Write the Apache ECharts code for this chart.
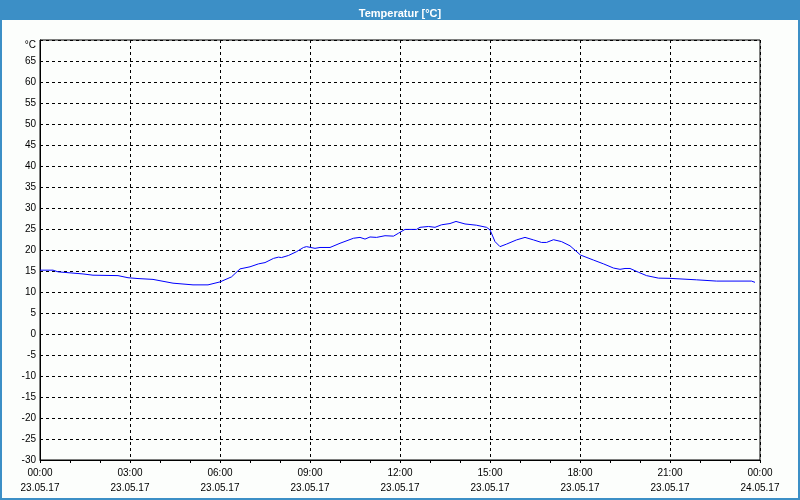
<!DOCTYPE html>
<html>
<head>
<meta charset="utf-8">
<script src="https://cdn.jsdelivr.net/npm/echarts@6/dist/echarts.min.js"></script>
<style>
html,body{margin:0;padding:0;background:#fcfefc;}
#main{width:800px;height:500px;}
</style>
</head>
<body>
<div id="main"></div>
<script>
// Measurement times (HH:MM on 23.05.17)
var times = ['00:00','00:26','00:36','01:26','01:46','02:36','02:56','03:16','03:46','04:26',
  '05:06','05:36','06:00','06:23','06:40','07:00','07:17','07:30','07:47','07:57',
  '08:03','08:17','08:33','08:47','08:53','09:10','09:20','09:40','10:00','10:27',
  '10:40','10:50','11:00','11:13','11:30','11:47','11:57','12:10','12:33','12:40',
  '12:57','13:10','13:23','13:40','13:52','14:10','14:33','14:53','15:00','15:10',
  '15:20','15:33','15:53','16:10','16:27','16:43','16:53','17:07','17:23','17:40',
  '18:01','18:27','18:47','19:07','19:20','19:30','19:40','19:57','20:13','20:37',
  '21:00','21:53','22:33','23:43','23:50'];
// Temperature values in °C
var temps = [15.2,15.2,14.8,14.3,14.0,13.9,13.4,13.2,13.0,12.1,
  11.7,11.7,12.4,13.6,15.5,16.0,16.7,17.0,18.0,18.3,
  18.2,18.7,19.6,20.6,20.8,20.4,20.6,20.6,21.6,22.8,
  23.0,22.6,23.1,23.0,23.4,23.3,24.0,24.9,24.9,25.4,
  25.6,25.4,26.0,26.3,26.8,26.2,25.9,25.4,24.8,22.0,
  20.8,21.4,22.4,23.0,22.4,21.8,21.8,22.45,22.0,21.0,
  18.8,17.6,16.7,15.7,15.4,15.6,15.6,14.7,13.9,13.3,
  13.25,12.9,12.6,12.6,12.3];
// X tick labels
var xTimeLabels = ['00:00','03:00','06:00','09:00','12:00','15:00','18:00','21:00','00:00'];
var xDateLabels = ['23.05.17','23.05.17','23.05.17','23.05.17','23.05.17','23.05.17','23.05.17','23.05.17','24.05.17'];
var yUnitLabel = '°C';

function toHours(s){var p=s.split(':');return (+p[0])+(+p[1])/60;}
var seriesData = times.map(function(t,i){return [toHours(t), temps[i]];});

var FONT = 'Liberation Sans';
var BLUE = '#3c8fc6';
var chart = echarts.init(document.getElementById('main'), null, {renderer:'canvas'});
chart.setOption({
  animation:false,
  backgroundColor:'#fcfefc',
  title:{
    text:'Temperatur [°C]', left:'center', top:3,
    textStyle:{color:'#ffffff', fontSize:11, fontWeight:'bold', fontFamily:FONT}
  },
  graphic:[
    {type:'rect', shape:{x:0,y:0,width:800,height:20}, style:{fill:BLUE}, z:-10, silent:true},
    {type:'rect', shape:{x:1,y:1,width:798,height:498}, style:{fill:null, stroke:BLUE, lineWidth:2}, z:-10, silent:true}
  ],
  grid:{left:40, right:40, top:40, bottom:40, show:true, borderColor:'#000', borderWidth:1, backgroundColor:'transparent'},
  xAxis:{
    type:'value', min:0, max:24, interval:3,
    axisLine:{show:true, onZero:false, lineStyle:{color:'#000', width:1}},
    axisTick:{show:true, length:3, lineStyle:{color:'#000'}},
    minorTick:{show:true, splitNumber:3, length:3, lineStyle:{color:'#000'}},
    splitLine:{show:true, lineStyle:{color:'#000', type:[3,3], width:1}},
    axisLabel:{
      margin:6, color:'#000', fontSize:10, fontFamily:FONT, lineHeight:15,
      formatter:function(v){var i=Math.round(v/3); return xTimeLabels[i]+'\n'+xDateLabels[i];}
    }
  },
  yAxis:{
    type:'value', min:-30, max:70, interval:5,
    axisLine:{show:true, onZero:false, lineStyle:{color:'#000', width:1}},
    axisTick:{show:false},
    splitLine:{show:true, lineStyle:{color:'#000', type:[3,3], width:1}},
    axisLabel:{
      margin:4, color:'#000', fontSize:10, fontFamily:FONT,
      formatter:function(v){return v===70 ? '{u|'+yUnitLabel+'}' : String(v);},
      rich:{u:{fontSize:10, fontFamily:FONT, color:'#000', padding:[10,0,0,0]}}
    }
  },
  series:[{
    type:'line', data:seriesData, showSymbol:false, smooth:false,
    lineStyle:{color:'#0000ff', width:1}, itemStyle:{color:'#0000ff'}
  }]
});
</script>
</body>
</html>
